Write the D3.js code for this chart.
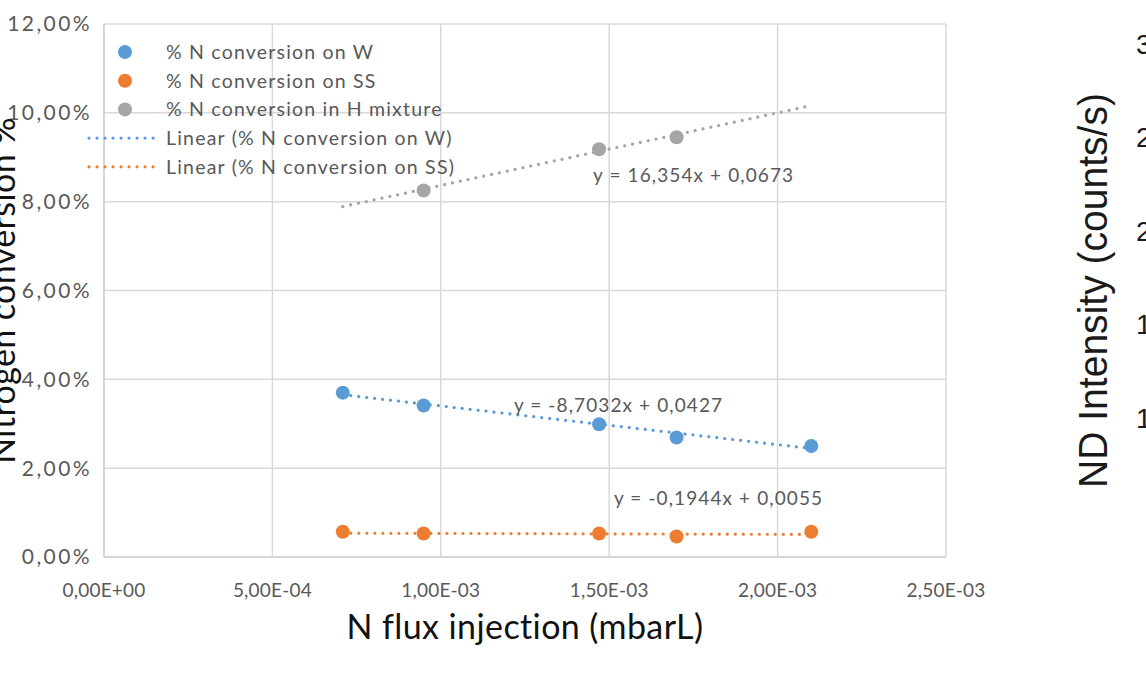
<!DOCTYPE html>
<html>
<head>
<meta charset="utf-8">
<script src="https://cdn.jsdelivr.net/npm/d3@7"></script>
<style>
  html, body { margin: 0; padding: 0; background: #fff; overflow: hidden; }
  svg { display: block; font-family: Lato, "Open Sans", sans-serif; }
</style>
</head>
<body>
<div id="chart"></div>
<script>
// values
const fluxW = [0.709e-3, 0.949e-3, 1.47e-3, 1.70e-3, 2.10e-3];
const convW = [0.0370, 0.0341, 0.0299, 0.0269, 0.0250];
const fluxSS = [0.709e-3, 0.949e-3, 1.47e-3, 1.70e-3, 2.10e-3];
const convSS = [0.0057, 0.0053, 0.0053, 0.0046, 0.0057];
const fluxH = [0.949e-3, 1.47e-3, 1.70e-3];
const convH = [0.0825, 0.0918, 0.0945];

// trendline equations as printed on the chart
const trendSlopes = [-8.7032, -0.1944, 16.354];
const trendIntercepts = [0.0427, 0.0055, 0.0673];
const trendRange = [0.709e-3, 2.10e-3];
const trendLabels = ["y = -8,7032x + 0,0427", "y = -0,1944x + 0,0055", "y = 16,354x + 0,0673"];

const seriesNames = ["% N conversion on W", "% N conversion on SS", "% N conversion in H mixture"];
const trendNames = ["Linear (% N conversion on W)", "Linear (% N conversion on SS)"];

const xTicks = [0, 5e-4, 1e-3, 1.5e-3, 2e-3, 2.5e-3];
const xTickLabels = ["0,00E+00", "5,00E-04", "1,00E-03", "1,50E-03", "2,00E-03", "2,50E-03"];
const yTicks = [0, 0.02, 0.04, 0.06, 0.08, 0.10, 0.12];
const yTickLabels = ["0,00%", "2,00%", "4,00%", "6,00%", "8,00%", "10,00%", "12,00%"];

// second chart, cut off at the right edge
const rightTicks = [3, 2.5, 2, 1.5, 1];
const rightTickLabels = ["3", "2", "2", "1", "1"];

const colors = ["#5B9BD5", "#ED7D31", "#A5A5A5"];

const width = 1146, height = 673;
const plot = { left: 104, right: 946, top: 24, bottom: 557 };

const svg = d3.select("#chart").append("svg")
    .attr("width", width)
    .attr("height", height);

const x = d3.scaleLinear().domain([0, 2.5e-3]).range([plot.left, plot.right]);
const y = d3.scaleLinear().domain([0, 0.12]).range([plot.bottom, plot.top]);

// gridlines
svg.append("g").selectAll("line")
    .data(yTicks)
    .enter().append("line")
    .attr("x1", plot.left).attr("x2", plot.right)
    .attr("y1", d => y(d)).attr("y2", d => y(d))
    .style("stroke", d => d === 0 ? "#c8c8c8" : "#d9d9d9")
    .style("stroke-width", 1.5);

svg.append("g").selectAll("line")
    .data(xTicks)
    .enter().append("line")
    .attr("x1", d => x(d)).attr("x2", d => x(d))
    .attr("y1", plot.top).attr("y2", plot.bottom)
    .style("stroke", d => d === 0 ? "#c8c8c8" : "#d9d9d9")
    .style("stroke-width", 1.5);

// tick labels
svg.append("g").selectAll("text")
    .data(yTicks)
    .enter().append("text")
    .attr("x", 92)
    .attr("y", d => y(d))
    .attr("dy", "0.35em")
    .attr("text-anchor", "end")
    .style("font-size", "21px")
    .style("letter-spacing", "2.4px")
    .style("fill", "#595959")
    .text((d, i) => yTickLabels[i]);

svg.append("g").selectAll("text")
    .data(xTicks)
    .enter().append("text")
    .attr("x", d => x(d))
    .attr("y", 590)
    .attr("dy", "0.35em")
    .attr("text-anchor", "middle")
    .style("font-size", "19px")
    .style("letter-spacing", "0.2px")
    .style("fill", "#595959")
    .text((d, i) => xTickLabels[i]);

// axis titles
svg.append("text")
    .attr("x", (plot.left + plot.right) / 2)
    .attr("y", 627)
    .attr("dy", "0.35em")
    .attr("text-anchor", "middle")
    .style("font-size", "34px")
    .style("letter-spacing", "0.4px")
    .style("fill", "#111")
    .text("N flux injection (mbarL)");

svg.append("text")
    .attr("transform", `translate(15, ${(plot.top + plot.bottom) / 2}) rotate(-90)`)
    .attr("text-anchor", "middle")
    .style("font-size", "34px")
    .style("letter-spacing", "0.4px")
    .style("fill", "#111")
    .text("Nitrogen conversion %");

// trendlines
const trendLine = d3.line().x(d => x(d[0])).y(d => y(d[1]));
const trendOrder = [2, 0, 1];
trendOrder.forEach(i => {
    const pts = trendRange.map(f => [f, trendSlopes[i] * f + trendIntercepts[i]]);
    svg.append("path")
        .datum(pts)
        .attr("d", trendLine)
        .style("fill", "none")
        .style("stroke", colors[i])
        .style("stroke-width", 3.2)
        .style("stroke-linecap", "round")
        .style("stroke-dasharray", "0.01 8");
});

// markers
const series = [
    fluxW.map((f, i) => [f, convW[i]]),
    fluxSS.map((f, i) => [f, convSS[i]]),
    fluxH.map((f, i) => [f, convH[i]])
];
series.forEach((pts, k) => {
    svg.append("g").selectAll("circle")
        .data(pts)
        .enter().append("circle")
        .attr("cx", d => x(d[0]))
        .attr("cy", d => y(d[1]))
        .attr("r", 7)
        .style("fill", colors[k]);
});

// equation labels
const labelAt = [[1.217e-3, 0.0342], [1.514e-3, 0.0133], [1.452e-3, 0.0860]];
svg.append("g").selectAll("text")
    .data(trendLabels)
    .enter().append("text")
    .attr("x", (d, i) => x(labelAt[i][0]))
    .attr("y", (d, i) => y(labelAt[i][1]))
    .attr("dy", "0.35em")
    .style("font-size", "19px")
    .style("letter-spacing", "1.1px")
    .style("fill", "#595959")
    .text(d => d);

// legend
const legendY = d3.scaleLinear().domain([0, 1]).range([52, 80.7]);
seriesNames.forEach((name, i) => {
    svg.append("circle")
        .attr("cx", 125).attr("cy", legendY(i))
        .attr("r", 7)
        .style("fill", colors[i]);
    svg.append("text")
        .attr("x", 166).attr("y", legendY(i))
        .attr("dy", "0.35em")
        .style("font-size", "19.5px")
        .style("letter-spacing", "1.2px")
        .style("fill", "#595959")
        .text(name);
});
trendNames.forEach((name, i) => {
    const ly = legendY(i + 3);
    svg.append("line")
        .attr("x1", 89).attr("x2", 156)
        .attr("y1", ly).attr("y2", ly)
        .style("stroke", colors[i])
        .style("stroke-width", 3.2)
        .style("stroke-linecap", "round")
        .style("stroke-dasharray", "0.01 8");
    svg.append("text")
        .attr("x", 166).attr("y", ly)
        .attr("dy", "0.35em")
        .style("font-size", "19.5px")
        .style("letter-spacing", "1.2px")
        .style("fill", "#595959")
        .text(name);
});

// neighbouring chart, only its left edge is in view
const yRight = d3.scaleLinear().domain([1, 3]).range([418, 44]);
svg.append("text")
    .attr("transform", `translate(1107, 290.5) rotate(-90)`)
    .attr("text-anchor", "middle")
    .attr("textLength", 395)
    .attr("lengthAdjust", "spacingAndGlyphs")
    .style("font-family", "'Liberation Sans', Arial, sans-serif")
    .style("font-size", "41px")
    .style("fill", "#1a1a1a")
    .text("ND Intensity (counts/s)");

svg.append("g").selectAll("text")
    .data(rightTicks)
    .enter().append("text")
    .attr("x", 1136)
    .attr("y", d => yRight(d))
    .attr("dy", "0.35em")
    .style("font-family", "'Liberation Sans', Arial, sans-serif")
    .style("font-size", "28px")
    .style("fill", "#1a1a1a")
    .text((d, i) => rightTickLabels[i]);
</script>
</body>
</html>
